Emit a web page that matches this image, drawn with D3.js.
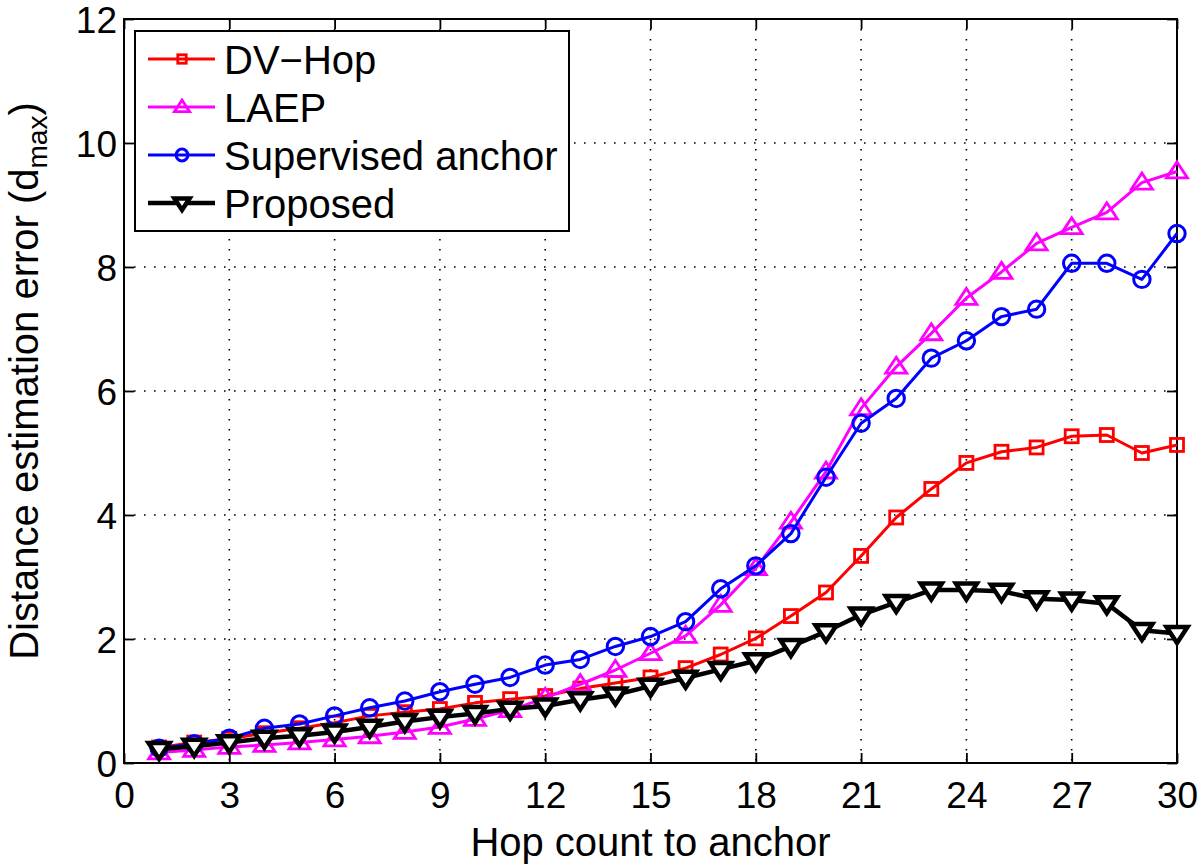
<!DOCTYPE html>
<html>
<head>
<meta charset="utf-8">
<script src="https://cdn.jsdelivr.net/npm/d3@7"></script>
<style>
html, body { margin: 0; padding: 0; background: #fff; }
svg { display: block; }
text { font-family: "Liberation Sans", Arial, Helvetica, sans-serif; fill: #000; }
</style>
</head>
<body>
<svg id="chart" width="1200" height="866"></svg>
<script>
const hops = d3.range(1, 31);
const dvHop = [0.25,0.33,0.39,0.48,0.56,0.65,0.76,0.82,0.87,0.97,1.03,1.08,1.20,1.29,1.38,1.53,1.75,2.01,2.37,2.75,3.34,3.96,4.42,4.84,5.02,5.09,5.27,5.29,5.00,5.13];
const laep = [0.17,0.21,0.26,0.29,0.33,0.38,0.43,0.50,0.58,0.71,0.85,1.05,1.27,1.50,1.77,2.05,2.55,3.14,3.89,4.70,5.72,6.39,6.93,7.50,7.92,8.38,8.64,8.88,9.36,9.54];
const supervised = [0.24,0.31,0.40,0.56,0.63,0.76,0.89,1.00,1.15,1.27,1.38,1.58,1.67,1.88,2.04,2.28,2.81,3.18,3.70,4.61,5.48,5.88,6.53,6.81,7.20,7.32,8.06,8.06,7.80,8.54];
const proposed = [0.22,0.27,0.33,0.40,0.44,0.50,0.58,0.67,0.74,0.80,0.87,0.92,1.02,1.10,1.24,1.37,1.51,1.65,1.88,2.12,2.39,2.59,2.79,2.79,2.77,2.65,2.63,2.57,2.14,2.09];
const seriesNames = ["DV\u2212Hop", "LAEP", "Supervised anchor", "Proposed"];
const xTicks = [0,3,6,9,12,15,18,21,24,27,30];
const yTicks = [0,2,4,6,8,10,12];

const series = [
  {name: seriesNames[0], values: dvHop, color: "#ff0000", marker: "square", width: 3},
  {name: seriesNames[1], values: laep, color: "#ff00ff", marker: "triUp", width: 3},
  {name: seriesNames[2], values: supervised, color: "#0000ff", marker: "circle", width: 3},
  {name: seriesNames[3], values: proposed, color: "#000000", marker: "triDown", width: 4.5}
];

const L = 124, R = 1177, T = 19, B = 763;
const svg = d3.select("#chart");
const x = d3.scaleLinear().domain([0, 30]).range([L, R]);
const y = d3.scaleLinear().domain([0, 12]).range([B, T]);

// grid
const grid = svg.append("g");
xTicks.filter(t => t > 0 && t < 30).forEach(t => {
  grid.append("line").attr("x1", x(t)).attr("x2", x(t)).attr("y1", T).attr("y2", B)
    .attr("stroke", "#000").attr("stroke-width", 1.6).attr("stroke-dasharray", "1.6 8.4");
});
yTicks.filter(t => t > 0 && t < 12).forEach(t => {
  grid.append("line").attr("x1", L).attr("x2", R).attr("y1", y(t)).attr("y2", y(t))
    .attr("stroke", "#000").attr("stroke-width", 1.6).attr("stroke-dasharray", "1.6 8.4");
});

// axes with inward ticks on all sides
const fontTick = 37;
const xAxisB = d3.axisBottom(x).tickValues(xTicks).tickSizeInner(-10).tickSizeOuter(0).tickPadding(14);
const gxb = svg.append("g").attr("transform", `translate(0,${B})`).call(xAxisB);
gxb.select(".domain").remove();
gxb.selectAll(".tick line").attr("stroke", "#000").attr("stroke-width", 1.8);
gxb.selectAll(".tick text").attr("font-size", fontTick).attr("font-family", "Liberation Sans, Arial, sans-serif")
  .attr("dy", null).attr("y", 45).attr("fill", "#000");

const xAxisT = d3.axisTop(x).tickValues(xTicks).tickSizeInner(-10).tickSizeOuter(0).tickFormat("");
const gxt = svg.append("g").attr("transform", `translate(0,${T})`).call(xAxisT);
gxt.select(".domain").remove();
gxt.selectAll(".tick line").attr("stroke", "#000").attr("stroke-width", 1.8);

const yAxisL = d3.axisLeft(y).tickValues(yTicks).tickSizeInner(-10).tickSizeOuter(0);
const gyl = svg.append("g").attr("transform", `translate(${L},0)`).call(yAxisL);
gyl.select(".domain").remove();
gyl.selectAll(".tick line").attr("stroke", "#000").attr("stroke-width", 1.8);
gyl.selectAll(".tick text").attr("font-size", fontTick).attr("font-family", "Liberation Sans, Arial, sans-serif")
  .attr("x", -7).attr("dy", "0.36em").attr("fill", "#000");

const yAxisR = d3.axisRight(y).tickValues(yTicks).tickSizeInner(-10).tickSizeOuter(0).tickFormat("");
const gyr = svg.append("g").attr("transform", `translate(${R},0)`).call(yAxisR);
gyr.select(".domain").remove();
gyr.selectAll(".tick line").attr("stroke", "#000").attr("stroke-width", 1.8);

// frame
svg.append("rect").attr("x", L).attr("y", T).attr("width", R - L).attr("height", B - T)
  .attr("fill", "none").attr("stroke", "#000").attr("stroke-width", 2);

// markers
function drawMarker(g, type, cx, cy, color, scale) {
  const s = scale || 1;
  if (type === "square") {
    const a = 13 * s;
    g.append("rect").attr("x", cx - a/2).attr("y", cy - a/2).attr("width", a).attr("height", a)
      .attr("fill", "none").attr("stroke", color).attr("stroke-width", 2.8);
  } else if (type === "circle") {
    g.append("circle").attr("cx", cx).attr("cy", cy).attr("r", 8.2 * s)
      .attr("fill", "none").attr("stroke", color).attr("stroke-width", 3);
  } else if (type === "triUp") {
    const w = 21 * s, h = 16 * s;
    g.append("path").attr("d", `M${cx},${cy - h*0.6}L${cx + w/2},${cy + h*0.4}L${cx - w/2},${cy + h*0.4}Z`)
      .attr("fill", "none").attr("stroke", color).attr("stroke-width", 2.8).attr("stroke-linejoin", "miter");
  } else if (type === "triDown") {
    const w = 21 * s, h = 16 * s;
    g.append("path").attr("d", `M${cx},${cy + h*0.6}L${cx + w/2},${cy - h*0.4}L${cx - w/2},${cy - h*0.4}Z`)
      .attr("fill", "#fff").attr("stroke", color).attr("stroke-width", 4.5).attr("stroke-linejoin", "miter");
  }
}

const line = d3.line().x((d, i) => x(hops[i])).y(d => y(d));
series.forEach(s => {
  const g = svg.append("g");
  g.append("path").datum(s.values).attr("d", line)
    .attr("fill", "none").attr("stroke", s.color).attr("stroke-width", s.width).attr("stroke-linejoin", "round");
  s.values.forEach((v, i) => drawMarker(g, s.marker, x(hops[i]), y(v), s.color, 1));
});

// legend
const lg = svg.append("g");
lg.append("rect").attr("x", 135).attr("y", 31).attr("width", 434).attr("height", 200)
  .attr("fill", "#fff").attr("stroke", "#000").attr("stroke-width", 2);
series.forEach((s, i) => {
  const cy = 59 + i * 48;
  lg.append("line").attr("x1", 148).attr("x2", 215).attr("y1", cy).attr("y2", cy)
    .attr("stroke", s.color).attr("stroke-width", s.width);
  drawMarker(lg, s.marker, 182, cy, s.color, s.marker === "square" ? 0.65 : 0.72);
  lg.append("text").attr("x", 224).attr("y", cy + 14.5).attr("font-size", 40).text(s.name);
});

// axis titles
svg.append("text").attr("x", (L + R) / 2).attr("y", 856).attr("text-anchor", "middle")
  .attr("font-size", 40).text("Hop count to anchor");

const yl = svg.append("text").attr("transform", "translate(38,381) rotate(-90)")
  .attr("text-anchor", "middle").attr("font-size", 40);
yl.append("tspan").text("Distance estimation error (d");
yl.append("tspan").attr("font-size", 28).attr("dy", 9).text("max");
yl.append("tspan").attr("dy", -9).text(")");
</script>
</body>
</html>
